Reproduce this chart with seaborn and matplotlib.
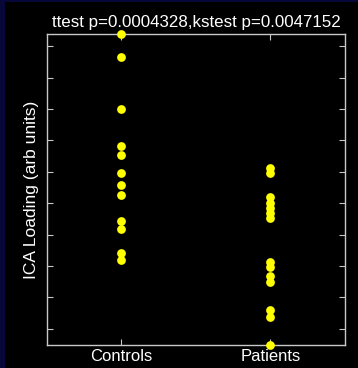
import matplotlib

matplotlib.use("Agg")

import matplotlib.pyplot as plt
import pandas as pd
import seaborn as sns
from matplotlib.patches import Rectangle

# ICA loadings (arbitrary units)
controls = [0.739, 0.666, 0.501, 0.381, 0.355, 0.297, 0.259, 0.225,
            0.142, 0.117, 0.042, 0.019]
patients = [0.313, 0.297, 0.220, 0.201, 0.185, 0.169, 0.153,
            0.014, -0.002, -0.032, -0.051, -0.141, -0.163, -0.252]
groups = ["Controls", "Patients"]
y_ticks = [-0.2, -0.1, 0.0, 0.1, 0.2, 0.3, 0.4, 0.5, 0.6, 0.7]
title = "ttest p=0.0004328,kstest p=0.0047152"

df = pd.DataFrame({
    "group": ["Controls"] * len(controls) + ["Patients"] * len(patients),
    "loading": controls + patients,
})

sns.set_theme(style="dark")
plt.rcParams["font.family"] = ["Liberation Sans", "DejaVu Sans"]

fig = plt.figure(figsize=(3.58, 3.68), dpi=100, facecolor="black")
# navy strip of the surrounding figure window (left and top edges)
fig.patches.append(Rectangle((0, 0), 5 / 358, 1, transform=fig.transFigure,
                             facecolor="#070739", edgecolor="none", zorder=-1))
fig.patches.append(Rectangle((0, 1 - 2 / 368), 1, 2 / 368, transform=fig.transFigure,
                             facecolor="#070739", edgecolor="none", zorder=-1))

ax = fig.add_axes([47 / 358, 23 / 368, 298 / 358, 311 / 368])
ax.set_facecolor("black")

sns.stripplot(data=df, x="group", y="loading", order=groups, jitter=False,
              color="#ffff00", size=6.3, linewidth=0, ax=ax, clip_on=False, zorder=3)

ax.set_xlim(-0.5, 1.5)
ax.set_ylim(min(df["loading"]), max(df["loading"]))
ax.set_yticks(y_ticks)
ax.set_yticklabels([])
ax.grid(False)

for s in ax.spines.values():
    s.set_color("#c8c8c8")
    s.set_linewidth(1.0)
ax.tick_params(axis="both", direction="in", length=4, width=0.8, color="#c8c8c8",
               top=True, right=True, left=True, bottom=True,
               labelcolor="white", labelsize=12, pad=3)

ax.set_xlabel("")
ax.set_ylabel("ICA Loading (arb units)", color="white", fontsize=12.5, labelpad=3)
ax.set_title(title, color="white", fontsize=12.2, pad=5)

fig.savefig("out.png", dpi=100, facecolor=fig.get_facecolor())
